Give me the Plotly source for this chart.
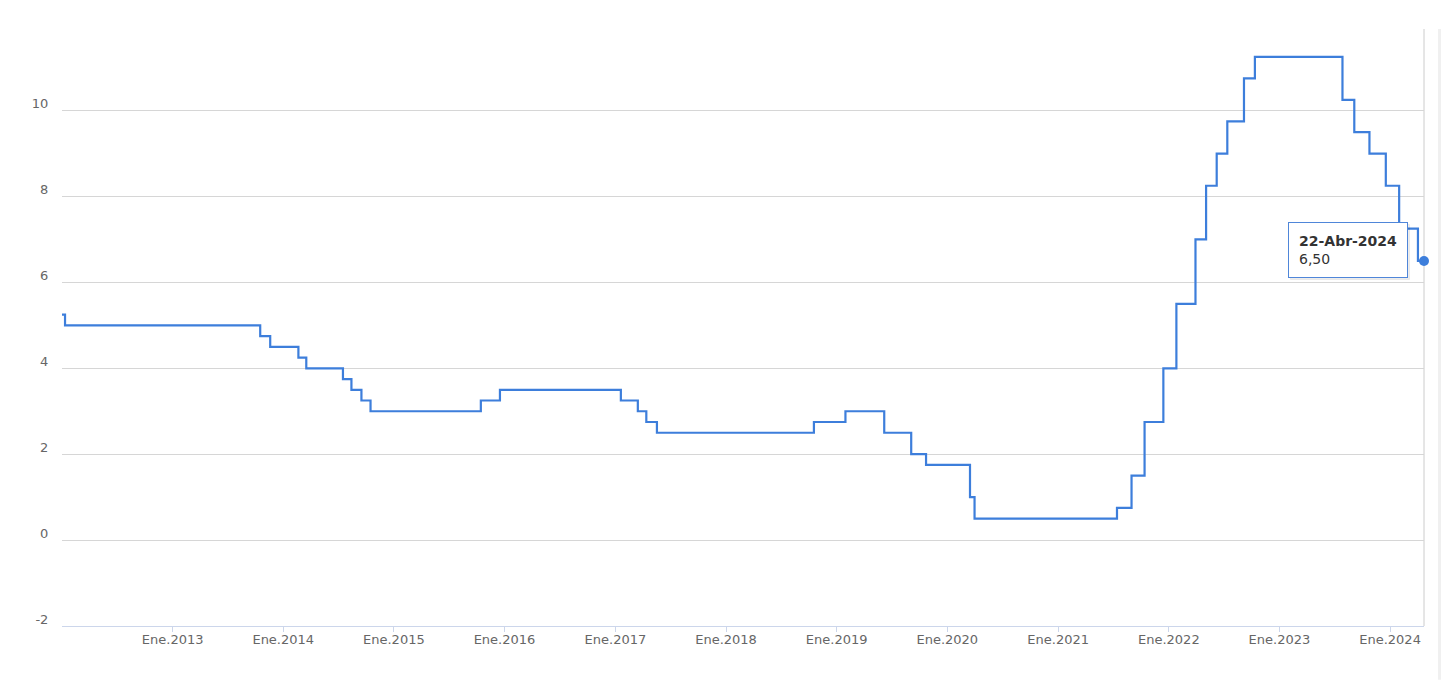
import plotly.graph_objects as go

# Tasa de política monetaria (%), fechas de cambio
change_dates = [
    "2012-01-02", "2012-01-12", "2013-10-17", "2013-11-19", "2014-02-20",
    "2014-03-18", "2014-07-17", "2014-08-14", "2014-09-16", "2014-10-16",
    "2015-10-15", "2015-12-17", "2017-01-19", "2017-03-16", "2017-04-13",
    "2017-05-18", "2018-10-18", "2019-01-30", "2019-06-07", "2019-09-04",
    "2019-10-23", "2020-03-16", "2020-03-31", "2021-07-14", "2021-08-31",
    "2021-10-13", "2021-12-14", "2022-01-26", "2022-03-30", "2022-05-04",
    "2022-06-08", "2022-07-13", "2022-09-06", "2022-10-12", "2023-07-28",
    "2023-09-05", "2023-10-25", "2023-12-18", "2024-01-31", "2024-04-02",
]
rates = [
    5.25, 5.00, 4.75, 4.50, 4.25,
    4.00, 3.75, 3.50, 3.25, 3.00,
    3.25, 3.50, 3.25, 3.00, 2.75,
    2.50, 2.75, 3.00, 2.50, 2.00,
    1.75, 1.00, 0.50, 0.75, 1.50,
    2.75, 4.00, 5.50, 7.00, 8.25,
    9.00, 9.75, 10.75, 11.25, 10.25,
    9.50, 9.00, 8.25, 7.25, 6.50,
]
end_date = "2024-04-22"
end_label = "22-Abr-2024"
end_value_label = "6,50"

tick_dates = ["2013-01-01", "2014-01-01", "2015-01-01", "2016-01-01", "2017-01-01",
              "2018-01-01", "2019-01-01", "2020-01-01", "2021-01-01", "2022-01-01",
              "2023-01-01", "2024-01-01"]
tick_labels = ["Ene.2013", "Ene.2014", "Ene.2015", "Ene.2016", "Ene.2017", "Ene.2018",
               "Ene.2019", "Ene.2020", "Ene.2021", "Ene.2022", "Ene.2023", "Ene.2024"]
y_ticks = [-2, 0, 2, 4, 6, 8, 10]

LINE = "#3d7edb"
FONT = "DejaVu Sans"

xs = change_dates + [end_date]
ys = rates + [rates[-1]]

fig = go.Figure()
fig.add_trace(go.Scatter(
    x=xs, y=ys, mode="lines", line=dict(color=LINE, width=2.2, shape="hv"),
    hoverinfo="skip", showlegend=False,
))
fig.add_trace(go.Scatter(
    x=[end_date], y=[rates[-1]], mode="markers", cliponaxis=False,
    marker=dict(color=LINE, size=10, line=dict(width=0)), hoverinfo="skip", showlegend=False,
))

# tooltip shadow + tooltip
tip_text = f"<b>{end_label}</b><br>{end_value_label}"
fig.add_annotation(
    x=end_date, y=rates[-1], xref="x", yref="y", showarrow=True,
    arrowcolor="rgba(0,0,0,0)", ax=-74, ay=-9, text=tip_text,
    font=dict(family=FONT, size=14, color="rgba(0,0,0,0)"),
    bgcolor="rgba(0,0,0,0.07)", bordercolor="rgba(0,0,0,0.05)", borderwidth=1,
    borderpad=10, align="left",
)
fig.add_annotation(
    x=end_date, y=rates[-1], xref="x", yref="y", showarrow=True,
    arrowcolor="rgba(0,0,0,0)", ax=-76, ay=-11, text=tip_text,
    font=dict(family=FONT, size=14, color="#333333"),
    bgcolor="white", bordercolor="#4f86d9", borderwidth=1,
    borderpad=10, align="left",
)

fig.add_shape(type="line", xref="paper", yref="paper", x0=1, x1=1, y0=0, y1=1,
              layer="below", line=dict(color="#cccccc", width=1))
fig.add_shape(type="line", xref="paper", yref="paper", x0=1.0114, x1=1.0114, y0=-0.09, y1=1,
              layer="below", line=dict(color="#f0f0f0", width=3))

fig.update_layout(
    width=1456, height=680,
    margin=dict(l=54, r=40, t=21, b=62),
    paper_bgcolor="white", plot_bgcolor="white",
    font=dict(family=FONT, size=13, color="#666666"),
    showlegend=False,
    xaxis=dict(
        range=[change_dates[0], end_date], tickvals=tick_dates, ticktext=tick_labels,
        showgrid=False, showline=True, linecolor="#ccd6eb", linewidth=1,
        ticks="outside", ticklen=5, tickcolor="#ccd6eb", zeroline=False,
        ticklabelstandoff=-4,
        tickfont=dict(family=FONT, size=13, color="#666666"),
    ),
    yaxis=dict(
        range=[-2, 11.9], tickvals=y_ticks, ticktext=[str(v) for v in y_ticks],
        showgrid=True, gridcolor="#d6d6d6", gridwidth=1, zeroline=False,
        showline=False, ticks="outside", ticklen=10, tickcolor="rgba(0,0,0,0)",
        ticklabelshift=-7,
        tickfont=dict(family=FONT, size=13, color="#666666"),
    ),
)

fig.write_html("out.html")
